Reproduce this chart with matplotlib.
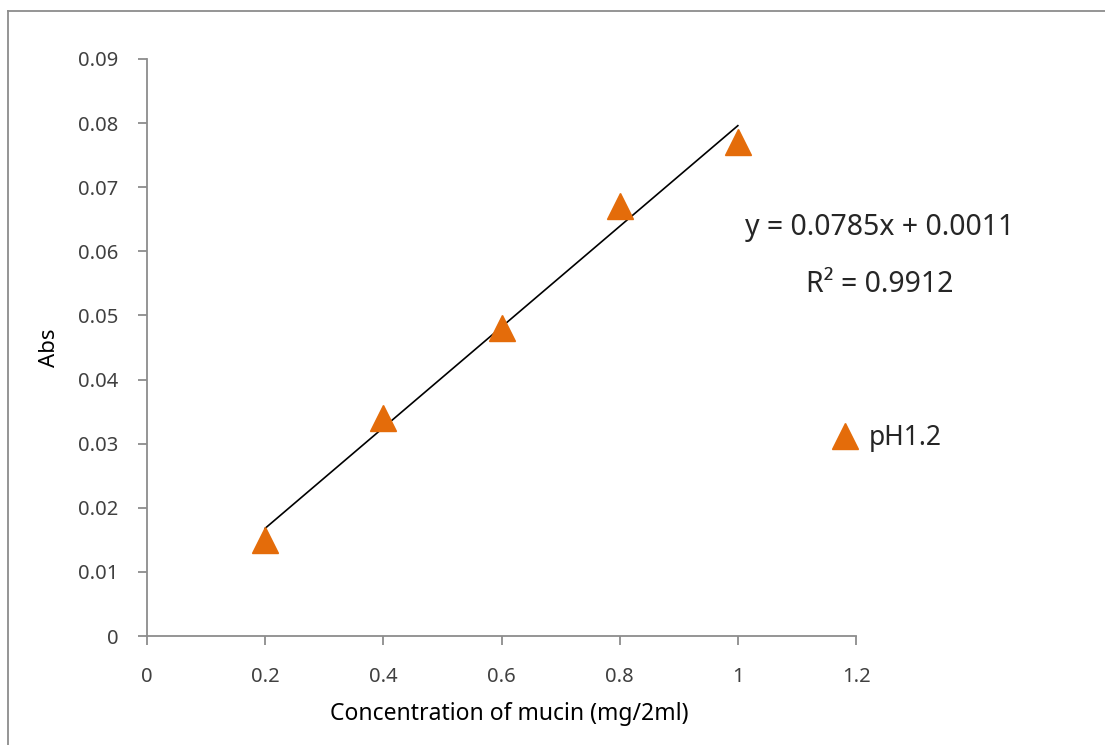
import numpy as np
import matplotlib
matplotlib.use('Agg')
import matplotlib.pyplot as plt
from matplotlib.lines import Line2D
from matplotlib.ticker import FuncFormatter

# данные (концентрация муцина и поглощение)
conc = [0.2, 0.4, 0.6, 0.8, 1.0]
absb = [0.015, 0.034, 0.048, 0.067, 0.077]
series_name = 'pH1.2'
x_ticks = [0, 0.2, 0.4, 0.6, 0.8, 1.0, 1.2]
y_ticks = [0, 0.01, 0.02, 0.03, 0.04, 0.05, 0.06, 0.07, 0.08, 0.09]

plt.rcParams['font.family'] = ['Noto Sans', 'DejaVu Sans']

fig = plt.figure(figsize=(11.05, 7.45), dpi=100)
ax = fig.add_axes([147 / 1105, 1 - 636 / 745, 709 / 1105, 577 / 745])

orange = '#E46C0A'
grey = '#8c8c8c'

# линейная аппроксимация
s = np.polyfit(conc, absb, 1)
xl = np.array([conc[0], conc[-1]])
ax.plot(xl, s[0] * xl + s[1], '-', color='black', lw=1.2, zorder=2)
ax.plot(conc, absb, '^', color=orange, ms=19, mec=orange, label=series_name,
        zorder=3, clip_on=False)

ax.set_xlim(0, 1.2)
ax.set_ylim(0, 0.09)
ax.set_xticks(x_ticks)
ax.set_yticks(y_ticks)
ax.xaxis.set_major_formatter(FuncFormatter(lambda v, p: '%g' % round(v, 3)))
ax.yaxis.set_major_formatter(FuncFormatter(lambda v, p: '%g' % round(v, 3)))

for sp in ['top', 'right']:
    ax.spines[sp].set_visible(False)
for sp in ['left', 'bottom']:
    ax.spines[sp].set_color(grey)
    ax.spines[sp].set_linewidth(1.3)
ax.tick_params(direction='out', length=6.5, width=1.3, color=grey,
               labelsize=14.5, labelcolor='#404040')
ax.tick_params(axis='x', pad=16)
ax.tick_params(axis='y', pad=14)

ax.set_xlabel('Concentration of mucin (mg/2ml)', fontsize=16.5, color='black', labelpad=12)
ax.xaxis.set_label_coords(0.511, -0.115)
ax.set_ylabel('Abs', fontsize=16, color='black', labelpad=13)

# уравнение тренда
fig.text(880 / 1105, 1 - 228 / 745, 'y = %.4fx + %.4f' % (s[0], s[1]),
         fontsize=20.5, ha='center', va='center', color='#262626')
r = np.corrcoef(conc, absb)[0, 1]
fig.text(880 / 1105, 1 - 285 / 745, 'R² = %.4f' % (r ** 2),
         fontsize=20.5, ha='center', va='center', color='#262626')

leg = ax.legend(loc='center left', bbox_to_anchor=(821 / 1105, 1 - 438 / 745),
                bbox_transform=fig.transFigure, frameon=False, fontsize=19,
                handlelength=1.0, handletextpad=0.4, borderaxespad=0)
for t in leg.get_texts():
    t.set_color('#262626')

# рамка
fig.add_artist(Line2D([8 / 1105, 8 / 1105], [0, 1 - 11 / 745], color=grey, lw=1.3,
                      transform=fig.transFigure))
fig.add_artist(Line2D([8 / 1105, 1], [1 - 11 / 745, 1 - 11 / 745], color=grey, lw=1.3,
                      transform=fig.transFigure))

fig.savefig('out.png', dpi=100)
